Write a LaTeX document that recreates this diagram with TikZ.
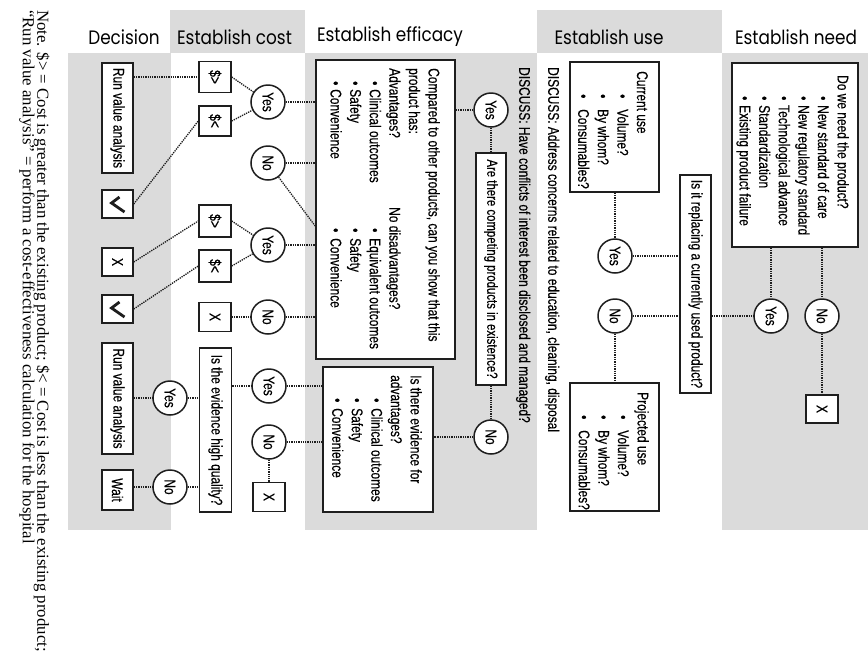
\documentclass[tikz,border=0pt]{standalone}
\usepackage{fontspec}
\usepackage{graphicx}
\setmainfont{Liberation Serif}
\newfontfamily\condf[FakeStretch=0.77,FakeBold=0.4]{Liberation Sans}
\newfontfamily\headf[FakeStretch=0.87]{Poppins}
\definecolor{band}{RGB}{219,219,219}
\definecolor{ink}{RGB}{30,30,30}
% vertical label (reads top to bottom)
\newcommand\turnlabel[1]{\rotatebox{-90}{#1}}
% bullet: indent before the dot, then room up to the item text
\newcommand\bl[2]{\hspace*{#1}\makebox[#2][l]{•}}
\begin{document}
\begin{tikzpicture}[x=1pt,y=-1pt,
  box/.style={draw=ink, line width=1.5pt, fill=white, inner sep=0pt,
    font=\condf\fontsize{15.5}{18}\selectfont},
  tickbox/.style={box, path picture={
    \draw[ink, line width=2.8pt, line join=miter]
      ([shift={(2pt,7pt)}]path picture bounding box.center) --
      ([shift={(-6pt,1pt)}]path picture bounding box.center) --
      ([shift={(7pt,-8pt)}]path picture bounding box.center);}},
  circ/.style={circle, draw=ink, line width=1.5pt, fill=white,
    minimum size=34pt, inner sep=0pt, font=\condf\fontsize{15.5}{18}\selectfont},
  conn/.style={draw=ink, line width=1.3pt, densely dotted},
  txt/.style={rotate=-90, inner sep=0pt, align=left,
    font=\condf\fontsize{15.5}{19.6}\selectfont},
  head/.style={inner sep=0pt, font=\headf\fontsize{19.4}{21}\selectfont},
  note/.style={rotate=-90, inner sep=0pt, anchor=base west,
    font=\fontsize{16.8}{17}\selectfont}]

\fill[white] (0,0) rectangle (868,657);
\useasboundingbox (0,0) rectangle (868,657);

% column bands
\fill[band] (170,10) rectangle (305,53);
\fill[band] (537,10) rectangle (722,53);
\fill[band] (68,53) rectangle (171,530);
\fill[band] (305,53) rectangle (537,530);
\fill[band] (722,53) rectangle (868,530);

% headers
\node[head] (h-dec) at (124,37) {Decision};
\node[head] (h-cost) at (234.5,37) {Establish cost};
\node[head] (h-eff) at (390,37) {Establish efficacy};
\node[head] (h-use) at (609,37) {Establish use};
\node[head] (h-need) at (796,37) {Establish need};

% note
\node[note] (note1) at (37.5,10) {Note. \$> = Cost is greater than the existing product; \$< = Cost is less than the existing product;};
\node[note] (note2) at (23,10) {“Run value analysis” = perform a cost-effectiveness calculation for the hospital};

% decision column
\node[box, minimum width=31pt, minimum height=110pt] (rva1) at (117.5,118) {\turnlabel{Run value analysis}};
\node[tickbox, minimum width=31pt, minimum height=28pt] (chk1) at (117.5,204) {};
\node[box, minimum width=31pt, minimum height=28pt] (xdec) at (117.5,262) {\turnlabel{X}};
\node[tickbox, minimum width=31pt, minimum height=28pt] (chk2) at (117.5,309) {};
\node[box, minimum width=31pt, minimum height=111pt] (rva2) at (117.5,398.5) {\turnlabel{Run value analysis}};
\node[box, minimum width=31pt, minimum height=40pt] (wait) at (117.5,490) {\turnlabel{Wait}};

% cost column
\node[box, minimum width=32pt, minimum height=31pt] (gt1) at (215,77) {\turnlabel{\$>}};
\node[box, minimum width=32pt, minimum height=30pt] (lt1) at (215,121) {\turnlabel{\$<}};
\node[box, minimum width=32pt, minimum height=32pt] (gt2) at (215,221) {\turnlabel{\$>}};
\node[box, minimum width=32pt, minimum height=32pt] (lt2) at (215,266) {\turnlabel{\$<}};
\node[box, minimum width=32pt, minimum height=29pt] (xcost) at (215,317) {\turnlabel{X}};
\node[box, minimum width=32pt, minimum height=164pt] (evq) at (215.5,430) {\turnlabel{Is the evidence high quality?}};
\node[circ] (yes1) at (268,102) {\turnlabel{Yes}};
\node[circ] (no1) at (268,163) {\turnlabel{No}};
\node[circ] (yes2) at (268,245) {\turnlabel{Yes}};
\node[circ] (no2) at (268,317) {\turnlabel{No}};
\node[circ] (yes3) at (269,386) {\turnlabel{Yes}};
\node[circ] (no3) at (269,442) {\turnlabel{No}};
\node[box, minimum width=32pt, minimum height=29pt] (xno3) at (269,497) {\turnlabel{X}};
\node[circ] (dyes) at (170,398) {\turnlabel{Yes}};
\node[circ] (dno) at (170,487) {\turnlabel{No}};

% efficacy column
\node[box, minimum width=139pt, minimum height=299pt] (eff) at (385.5,209.5) {};
\node[txt, anchor=north west] (eff-t) at (440,68) {Compared to other products, can you show that this\\
product has:\\
\makebox[139pt][l]{Advantages?}No disadvantages?\\
\makebox[139pt][l]{\bl{13pt}{8pt}Clinical outcomes}\bl{21pt}{10pt}Equivalent outcomes\\
\makebox[139pt][l]{\bl{13pt}{8pt}Safety}\bl{21pt}{10pt}Safety\\
\makebox[139pt][l]{\bl{13pt}{8pt}Convenience}\bl{21pt}{10pt}Convenience};
\node[box, minimum width=110pt, minimum height=145pt] (evadv) at (378,439.5) {};
\node[txt, anchor=north west] (evadv-t) at (422,375) {Is there evidence for\\
advantages?\\
\bl{23pt}{10pt}Clinical outcomes\\
\bl{23pt}{10pt}Safety\\
\bl{23pt}{10pt}Convenience};
\node[circ] (eyes) at (491,110) {\turnlabel{Yes}};
\node[box, minimum width=30pt, minimum height=232pt] (comp) at (491,269) {\turnlabel{\fontsize{14.8}{17}\selectfont Are there competing products in existence?}};
\node[circ] (eno) at (491,437) {\turnlabel{No}};
\node[txt, anchor=mid west] (disc1) at (521.5,67) {DISCUSS: Have conflicts of interest been disclosed and managed?};
\node[txt, anchor=mid west] (disc2) at (550.5,67) {DISCUSS: Address concerns related to education, cleaning, disposal};

% use column
\node[box, minimum width=89pt, minimum height=130pt] (cur) at (614.5,127) {};
\node[txt, anchor=north west] (cur-t) at (648,71) {Current use\\
\bl{23pt}{15pt}Volume?\\
\bl{23pt}{15pt}By whom?\\
\bl{23pt}{15pt}Consumables?};
\node[circ] (uyes) at (615,256) {\turnlabel{Yes}};
\node[circ] (uno) at (615,316) {\turnlabel{No}};
\node[box, minimum width=89pt, minimum height=128pt] (proj) at (614.5,447) {};
\node[txt, anchor=north west] (proj-t) at (649,392) {Projected use\\
\bl{23pt}{15pt}Volume?\\
\bl{23pt}{15pt}By whom?\\
\bl{23pt}{15pt}Consumables?};
\node[box, minimum width=31pt, minimum height=218pt] (repl) at (695.5,284) {\turnlabel{Is it replacing a currently used product?}};

% need column
\node[box, minimum width=126pt, minimum height=184pt] (need) at (795,155) {};
\node[txt, anchor=north west] (need-t) at (849,75) {Do we need the product?\\
\bl{21pt}{9pt}New standard of care\\
\bl{21pt}{9pt}New regulatory standard\\
\bl{21pt}{9pt}Technological advance\\
\bl{21pt}{9pt}Standardization\\
\bl{21pt}{9pt}Existing product failure};
\node[circ] (nyes) at (771,316) {\turnlabel{Yes}};
\node[circ] (nno) at (822,316) {\turnlabel{No}};
\node[box, minimum width=32pt, minimum height=28pt] (nx) at (822,409) {\turnlabel{X}};

\coordinate (nodis) at (316,227);

% connectors
\draw[conn] (rva1.east |- gt1.west) -- (gt1.west);
\draw[conn] (gt1.east) -- (yes1);
\draw[conn] (lt1.east) -- (yes1);
\draw[conn] (chk1.east) -- (lt1.west);
\draw[conn] (xdec.east) -- (gt2.west);
\draw[conn] (chk2.east) -- (lt2.west);
\draw[conn] (gt2.east) -- (yes2);
\draw[conn] (lt2.east) -- (yes2);
\draw[conn] (xcost) -- (no2);
\draw[conn] (yes1) -- (yes1 -| eff.west);
\draw[conn] (no1) -- (no1 -| eff.west);
\draw[conn] (no1) -- (nodis);
\draw[conn] (yes2) -- (yes2 -| eff.west);
\draw[conn] (no2) -- (no2 -| eff.west);
\draw[conn] (evq.east |- yes3) -- (yes3);
\draw[conn] (yes3) -- (yes3 -| evadv.west);
\draw[conn] (no3) -- (no3 -| evadv.west);
\draw[conn] (no3) -- (xno3);
\draw[conn] (rva2.east |- dyes) -- (dyes);
\draw[conn] (dyes) -- (dyes -| evq.west);
\draw[conn] (wait.east |- dno) -- (dno);
\draw[conn] (dno) -- (dno -| evq.west);
\draw[conn] (eff.east |- eyes) -- (eyes);
\draw[conn] (eyes) -- (comp);
\draw[conn] (comp) -- (eno);
\draw[conn] (eno) -- (eno -| evadv.east);
\draw[conn] (cur.south -| uyes) -- (uyes);
\draw[conn] (uyes) -- (uyes -| repl.west);
\draw[conn] (uno) -- (uno -| repl.west);
\draw[conn] (uno) -- (uno |- proj.north);
\draw[conn] (repl.east |- nyes) -- (nyes);
\draw[conn] (need.south -| nyes) -- (nyes);
\draw[conn] (need.south -| nno) -- (nno);
\draw[conn] (nno) -- (nx);
\end{tikzpicture}
\end{document}
